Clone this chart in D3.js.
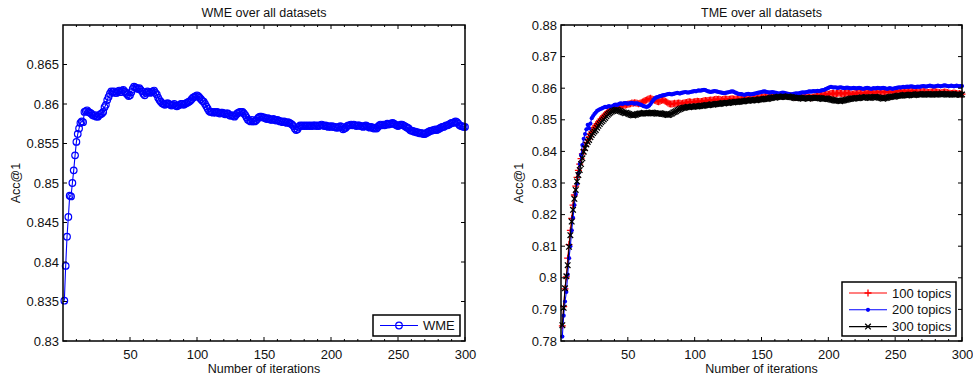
<!DOCTYPE html>
<html>
<head>
<meta charset="utf-8">
<script src="https://cdn.jsdelivr.net/npm/d3@7"></script>
<style>
  body { margin: 0; background: #fff; }
  svg { display: block; font-family: "Liberation Sans", Arial, sans-serif; }
  .tick-label { font-size: 13px; fill: #111; }
  .title, .axis-label { font-size: 12.5px; fill: #111; }
  .legend-text { font-size: 13px; fill: #111; }
</style>
</head>
<body>
<svg id="chart" width="973" height="382"></svg>
<script>
// accuracy values are stored as Acc@1 x 10000, one per iteration (1..300)
const wmeAcc = [
  8351, 8395, 8432, 8457, 8484, 8483, 8500, 8516, 8535, 8552,
  8562, 8569, 8576, 8578, 8577, 8590, 8591, 8592, 8590, 8589,
  8588, 8586, 8585, 8586, 8584, 8584, 8586, 8587, 8588, 8590,
  8596, 8599, 8605, 8609, 8613, 8616, 8615, 8616, 8614, 8614,
  8616, 8617, 8615, 8617, 8618, 8616, 8614, 8612, 8610, 8611,
  8615, 8619, 8622, 8621, 8620, 8619, 8620, 8618, 8616, 8613,
  8611, 8614, 8616, 8615, 8614, 8615, 8616, 8617, 8614, 8612,
  8608, 8605, 8603, 8601, 8600, 8599, 8600, 8601, 8600, 8599,
  8598, 8599, 8600, 8598, 8597, 8598, 8599, 8600, 8600, 8599,
  8600, 8601, 8602, 8603, 8604, 8606, 8608, 8609, 8610, 8611,
  8610, 8608, 8606, 8604, 8603, 8600, 8597, 8594, 8591, 8590,
  8590, 8589, 8590, 8589, 8590, 8589, 8588, 8589, 8589, 8588,
  8587, 8588, 8588, 8586, 8585, 8586, 8585, 8584, 8586, 8588,
  8589, 8590, 8590, 8590, 8588, 8586, 8583, 8580, 8579, 8578,
  8580, 8578, 8578, 8579, 8581, 8583, 8584, 8584, 8583, 8583,
  8582, 8581, 8582, 8581, 8580, 8580, 8581, 8580, 8579, 8580,
  8579, 8578, 8578, 8577, 8578, 8577, 8576, 8577, 8576, 8575,
  8574, 8572, 8569, 8567, 8568, 8571, 8573, 8572, 8573, 8572,
  8573, 8572, 8573, 8572, 8573, 8572, 8573, 8573, 8572, 8573,
  8572, 8573, 8574, 8573, 8572, 8573, 8572, 8571, 8572, 8571,
  8572, 8571, 8571, 8570, 8570, 8571, 8572, 8571, 8568, 8569,
  8570, 8572, 8573, 8573, 8574, 8573, 8574, 8573, 8572, 8573,
  8573, 8572, 8572, 8571, 8572, 8573, 8572, 8571, 8570, 8571,
  8570, 8569, 8570, 8569, 8571, 8573, 8574, 8573, 8574, 8573,
  8574, 8575, 8574, 8575, 8575, 8576, 8575, 8574, 8573, 8572,
  8573, 8574, 8574, 8573, 8572, 8571, 8570, 8569, 8567, 8566,
  8566, 8565, 8565, 8564, 8564, 8563, 8563, 8563, 8562, 8562,
  8563, 8564, 8565, 8566, 8566, 8567, 8567, 8568, 8567, 8568,
  8569, 8570, 8571, 8571, 8572, 8573, 8573, 8574, 8575, 8576,
  8576, 8577, 8578, 8577, 8575, 8573, 8572, 8572, 8571, 8571
];

const tme100 = [
  7848, 7909, 7965, 8003, 8062, 8105, 8150, 8188, 8230, 8262,
  8290, 8318, 8340, 8360, 8377, 8392, 8405, 8418, 8428, 8437,
  8446, 8455, 8462, 8469, 8476, 8482, 8488, 8493, 8498, 8503,
  8508, 8512, 8517, 8521, 8525, 8528, 8531, 8534, 8536, 8538,
  8540, 8542, 8543, 8541, 8543, 8545, 8547, 8546, 8548, 8549,
  8550, 8551, 8553, 8552, 8554, 8553, 8552, 8551, 8552, 8554,
  8556, 8559, 8561, 8563, 8565, 8567, 8568, 8566, 8564, 8562,
  8560, 8558, 8557, 8559, 8561, 8563, 8562, 8559, 8556, 8553,
  8551, 8550, 8550, 8551, 8552, 8551, 8552, 8553, 8552, 8551,
  8552, 8553, 8554, 8555, 8556, 8557, 8556, 8555, 8556, 8557,
  8558, 8559, 8558, 8557, 8558, 8559, 8560, 8561, 8560, 8561,
  8562, 8563, 8562, 8563, 8564, 8565, 8564, 8565, 8564, 8563,
  8564, 8565, 8566, 8565, 8564, 8565, 8566, 8567, 8566, 8565,
  8566, 8567, 8568, 8567, 8566, 8567, 8568, 8569, 8568, 8567,
  8568, 8569, 8570, 8569, 8570, 8571, 8572, 8571, 8570, 8571,
  8572, 8573, 8574, 8573, 8572, 8573, 8574, 8575, 8576, 8575,
  8574, 8575, 8576, 8577, 8576, 8575, 8576, 8577, 8578, 8577,
  8576, 8575, 8574, 8573, 8572, 8571, 8572, 8573, 8572, 8571,
  8572, 8573, 8574, 8573, 8572, 8571, 8570, 8571, 8572, 8573,
  8574, 8575, 8576, 8577, 8578, 8579, 8580, 8581, 8582, 8581,
  8582, 8583, 8584, 8583, 8582, 8583, 8584, 8585, 8584, 8583,
  8582, 8583, 8584, 8585, 8584, 8583, 8582, 8581, 8582, 8583,
  8584, 8585, 8586, 8585, 8584, 8583, 8584, 8585, 8586, 8587,
  8588, 8587, 8586, 8585, 8586, 8587, 8588, 8589, 8588, 8587,
  8586, 8587, 8588, 8589, 8590, 8589, 8588, 8587, 8588, 8589,
  8590, 8591, 8592, 8591, 8590, 8589, 8590, 8591, 8590, 8589,
  8590, 8591, 8592, 8591, 8590, 8589, 8588, 8587, 8588, 8589,
  8590, 8589, 8588, 8587, 8586, 8587, 8588, 8589, 8590, 8589,
  8588, 8587, 8586, 8585, 8586, 8587, 8588, 8587, 8586, 8585,
  8584, 8583, 8584, 8585, 8584, 8583, 8582, 8583, 8582, 8581
];

const tme200 = [
  7814, 7880, 7925, 7955, 8010, 8062, 8100, 8150, 8190, 8230,
  8265, 8298, 8330, 8360, 8389, 8420, 8440, 8455, 8470, 8484,
  8473, 8488, 8505, 8512, 8518, 8523, 8528, 8531, 8533, 8535,
  8537, 8539, 8541, 8540, 8542, 8543, 8541, 8542, 8544, 8547,
  8548, 8547, 8549, 8551, 8552, 8550, 8552, 8553, 8552, 8551,
  8552, 8553, 8554, 8552, 8551, 8552, 8552, 8550, 8549, 8547,
  8545, 8543, 8542, 8541, 8542, 8545, 8550, 8556, 8562, 8567,
  8570, 8572, 8573, 8575, 8576, 8577, 8578, 8579, 8580, 8581,
  8582, 8581, 8580, 8582, 8583, 8584, 8585, 8584, 8583, 8585,
  8586, 8587, 8588, 8587, 8586, 8587, 8588, 8589, 8590, 8591,
  8590, 8592, 8593, 8592, 8593, 8594, 8595, 8594, 8592, 8590,
  8589, 8588, 8589, 8590, 8591, 8590, 8589, 8588, 8587, 8586,
  8585, 8584, 8585, 8586, 8587, 8588, 8589, 8590, 8589, 8587,
  8585, 8583, 8582, 8581, 8581, 8580, 8579, 8580, 8581, 8582,
  8581, 8580, 8581, 8582, 8583, 8584, 8585, 8586, 8587, 8588,
  8589, 8590, 8589, 8588, 8587, 8586, 8587, 8588, 8587, 8586,
  8585, 8584, 8583, 8584, 8585, 8586, 8585, 8584, 8583, 8582,
  8581, 8580, 8581, 8582, 8583, 8584, 8583, 8584, 8585, 8586,
  8587, 8586, 8587, 8588, 8589, 8590, 8589, 8590, 8591, 8590,
  8591, 8592, 8591, 8592, 8593, 8594, 8595, 8597, 8599, 8601,
  8603, 8604, 8603, 8602, 8603, 8602, 8601, 8602, 8603, 8602,
  8601, 8600, 8601, 8602, 8601, 8600, 8599, 8600, 8601, 8600,
  8599, 8600, 8601, 8600, 8599, 8598, 8599, 8600, 8601, 8600,
  8599, 8598, 8599, 8600, 8599, 8600, 8601, 8600, 8599, 8600,
  8601, 8600, 8599, 8598, 8599, 8600, 8599, 8598, 8599, 8600,
  8601, 8602, 8603, 8602, 8603, 8604, 8603, 8604, 8605, 8604,
  8605, 8606, 8605, 8604, 8603, 8604, 8605, 8604, 8605, 8606,
  8607, 8606, 8605, 8606, 8607, 8608, 8607, 8606, 8605, 8606,
  8607, 8608, 8607, 8606, 8607, 8608, 8609, 8608, 8607, 8606,
  8607, 8608, 8607, 8606, 8607, 8608, 8607, 8606, 8607, 8607
];

const tme300 = [
  7850, 7905, 7967, 8005, 8040, 8098, 8135, 8178, 8215, 8250,
  8278, 8305, 8325, 8341, 8360, 8378, 8399, 8410, 8422, 8430,
  8436, 8445, 8452, 8458, 8463, 8468, 8475, 8481, 8487, 8492,
  8496, 8501, 8506, 8511, 8516, 8520, 8523, 8526, 8528, 8530,
  8531, 8532, 8530, 8528, 8526, 8524, 8523, 8521, 8522, 8520,
  8518, 8516, 8515, 8514, 8515, 8516, 8518, 8519, 8520, 8520,
  8521, 8522, 8521, 8520, 8520, 8521, 8522, 8523, 8522, 8521,
  8520, 8519, 8520, 8521, 8520, 8519, 8518, 8517, 8516, 8515,
  8516, 8518, 8520, 8523, 8525, 8527, 8530, 8532, 8534, 8536,
  8537, 8538, 8539, 8540, 8541, 8540, 8541, 8542, 8541, 8542,
  8543, 8542, 8543, 8544, 8545, 8544, 8545, 8546, 8547, 8546,
  8547, 8548, 8549, 8548, 8549, 8550, 8551, 8550, 8551, 8552,
  8553, 8552, 8553, 8554, 8553, 8554, 8555, 8556, 8555, 8556,
  8557, 8556, 8557, 8558, 8559, 8558, 8559, 8560, 8561, 8560,
  8561, 8562, 8561, 8562, 8563, 8562, 8563, 8564, 8565, 8564,
  8565, 8566, 8567, 8566, 8567, 8568, 8569, 8570, 8571, 8570,
  8571, 8572, 8573, 8572, 8573, 8574, 8573, 8572, 8573, 8574,
  8573, 8572, 8571, 8570, 8569, 8568, 8569, 8570, 8569, 8568,
  8567, 8568, 8569, 8568, 8567, 8568, 8569, 8570, 8569, 8568,
  8569, 8570, 8569, 8568, 8567, 8566, 8567, 8568, 8567, 8566,
  8565, 8564, 8563, 8562, 8561, 8560, 8561, 8560, 8559, 8560,
  8561, 8562, 8563, 8564, 8565, 8566, 8567, 8568, 8567, 8568,
  8569, 8568, 8569, 8570, 8571, 8570, 8571, 8572, 8571, 8570,
  8569, 8570, 8571, 8572, 8573, 8572, 8571, 8570, 8569, 8568,
  8567, 8568, 8569, 8570, 8571, 8572, 8573, 8574, 8573, 8574,
  8575, 8576, 8577, 8576, 8577, 8578, 8579, 8578, 8577, 8578,
  8579, 8580, 8579, 8578, 8579, 8580, 8581, 8580, 8579, 8580,
  8581, 8582, 8581, 8580, 8579, 8580, 8581, 8582, 8581, 8580,
  8579, 8580, 8581, 8582, 8583, 8582, 8581, 8580, 8579, 8580,
  8581, 8582, 8581, 8580, 8579, 8580, 8581, 8580, 8579, 8580
];

const xTicks = [50, 100, 150, 200, 250, 300];
const wmeYTicks = [0.83, 0.835, 0.84, 0.845, 0.85, 0.855, 0.86, 0.865];
const tmeYTicks = [0.78, 0.79, 0.8, 0.81, 0.82, 0.83, 0.84, 0.85, 0.86, 0.87, 0.88];
const tmeSeries = [
  {name: '100 topics', values: tme100, color: '#ff0000', marker: 'plus'},
  {name: '200 topics', values: tme200, color: '#0000ff', marker: 'dot'},
  {name: '300 topics', values: tme300, color: '#000000', marker: 'cross'}
];

const svg = d3.select('#chart');

function toPoints(values) {
  return values.map((v, i) => ({x: i + 1, y: v / 10000}));
}

function drawMarker(g, type, color) {
  if (type === 'circle') {
    g.append('circle').attr('r', 3.3)
      .attr('fill', 'none').attr('stroke', color).attr('stroke-width', 1.2);
  } else if (type === 'dot') {
    g.append('circle').attr('r', 2.1).attr('fill', color);
  } else if (type === 'plus') {
    g.append('path').attr('d', 'M-3.5,0H3.5M0,-3.5V3.5')
      .attr('stroke', color).attr('stroke-width', 1.3);
  } else if (type === 'cross') {
    g.append('path').attr('d', 'M-2.8,-2.8L2.8,2.8M-2.8,2.8L2.8,-2.8')
      .attr('stroke', color).attr('stroke-width', 1.3);
  }
}

function drawPanel(opts) {
  const x = d3.scaleLinear().domain([0, 300]).range([opts.left, opts.right]);
  const y = d3.scaleLinear().domain(opts.yDomain).range([opts.bottom, opts.top]);
  const g = svg.append('g');

  const clipId = 'clip' + opts.id;
  svg.append('clipPath').attr('id', clipId)
    .append('rect')
    .attr('x', opts.left - 4).attr('y', opts.top)
    .attr('width', opts.right - opts.left + 8).attr('height', opts.bottom - opts.top);

  const plot = g.append('g').attr('clip-path', `url(#${clipId})`);
  const line = d3.line().x(d => x(d.x)).y(d => y(d.y));

  opts.series.forEach(s => {
    const pts = toPoints(s.values);
    plot.append('path')
      .datum(pts)
      .attr('d', line)
      .attr('fill', 'none')
      .attr('stroke', s.color)
      .attr('stroke-width', 1.1);
    plot.append('g').selectAll('g')
      .data(pts)
      .join('g')
      .attr('transform', d => `translate(${x(d.x)},${y(d.y)})`)
      .each(function () { drawMarker(d3.select(this), s.marker, s.color); });
  });

  // axes: bottom/left with labels, top/right mirrored without labels
  const minor = d3.range(10, 300, 10).filter(v => v % 50 !== 0);
  const bottomAxis = d3.axisBottom(x).tickValues(xTicks).tickSize(0).tickPadding(9);
  const leftAxis = d3.axisLeft(y).tickValues(opts.yTicks).tickSize(0).tickPadding(4)
    .tickFormat(d => d3.format('')(+d.toFixed(3)));

  g.append('g').attr('transform', `translate(0,${opts.bottom})`).call(bottomAxis)
    .call(a => a.select('.domain').remove())
    .selectAll('text').attr('class', 'tick-label').attr('fill', null).attr('font-size', null).attr('font-family', null);
  g.append('g').attr('transform', `translate(${opts.left},0)`).call(leftAxis)
    .call(a => a.select('.domain').remove())
    .selectAll('text').attr('class', 'tick-label').attr('fill', null).attr('font-size', null).attr('font-family', null);

  const ticks = g.append('g').attr('stroke', '#000').attr('stroke-width', 1);
  xTicks.forEach(t => {
    ticks.append('line').attr('x1', x(t)).attr('x2', x(t)).attr('y1', opts.bottom).attr('y2', opts.bottom - 4);
    ticks.append('line').attr('x1', x(t)).attr('x2', x(t)).attr('y1', opts.top).attr('y2', opts.top + 4);
  });
  minor.forEach(t => {
    ticks.append('line').attr('x1', x(t)).attr('x2', x(t)).attr('y1', opts.bottom).attr('y2', opts.bottom - 2);
    ticks.append('line').attr('x1', x(t)).attr('x2', x(t)).attr('y1', opts.top).attr('y2', opts.top + 2);
  });
  opts.yTicks.forEach(t => {
    ticks.append('line').attr('x1', opts.left).attr('x2', opts.left + 4).attr('y1', y(t)).attr('y2', y(t));
    ticks.append('line').attr('x1', opts.right).attr('x2', opts.right - 4).attr('y1', y(t)).attr('y2', y(t));
  });

  g.append('rect')
    .attr('x', opts.left).attr('y', opts.top)
    .attr('width', opts.right - opts.left).attr('height', opts.bottom - opts.top)
    .attr('fill', 'none').attr('stroke', '#000').attr('stroke-width', 1.5);

  const cx = (opts.left + opts.right) / 2;
  g.append('text').attr('class', 'title')
    .attr('x', cx).attr('y', 16.5).attr('text-anchor', 'middle').text(opts.title);
  g.append('text').attr('class', 'axis-label')
    .attr('x', cx).attr('y', 373).attr('text-anchor', 'middle').text('Number of iterations');
  g.append('text').attr('class', 'axis-label')
    .attr('transform', `translate(${opts.yLabelX},${(opts.top + opts.bottom) / 2}) rotate(-90)`)
    .attr('text-anchor', 'middle').text('Acc@1');

  // legend
  const lg = g.append('g');
  lg.append('rect')
    .attr('x', opts.legend.x).attr('y', opts.legend.y)
    .attr('width', opts.legend.w).attr('height', opts.legend.h)
    .attr('fill', '#fff').attr('stroke', '#000').attr('stroke-width', 1.5);
  opts.series.forEach((s, i) => {
    const ly = opts.legend.y + opts.legend.firstRow + i * opts.legend.rowH;
    const lx = opts.legend.x + 7;
    lg.append('line').attr('x1', lx).attr('x2', lx + 38).attr('y1', ly).attr('y2', ly)
      .attr('stroke', s.color).attr('stroke-width', 1.1);
    drawMarker(lg.append('g').attr('transform', `translate(${lx + 19},${ly})`), s.marker, s.color);
    lg.append('text').attr('class', 'legend-text')
      .attr('x', lx + 43).attr('y', ly + 4.5).text(s.name);
  });
}

drawPanel({
  id: 'wme', title: 'WME over all datasets',
  left: 63, right: 465, top: 25, bottom: 341,
  yDomain: [0.83, 0.87], yTicks: wmeYTicks, yLabelX: 20,
  series: [{name: 'WME', values: wmeAcc, color: '#0000ff', marker: 'circle'}],
  legend: {x: 373, y: 315, w: 87, h: 21, firstRow: 10.5, rowH: 17}
});

drawPanel({
  id: 'tme', title: 'TME over all datasets',
  left: 561, right: 962, top: 25, bottom: 341,
  yDomain: [0.78, 0.88], yTicks: tmeYTicks, yLabelX: 523,
  series: tmeSeries,
  legend: {x: 842, y: 282, w: 114, h: 54, firstRow: 11, rowH: 16.8}
});
</script>
</body>
</html>
